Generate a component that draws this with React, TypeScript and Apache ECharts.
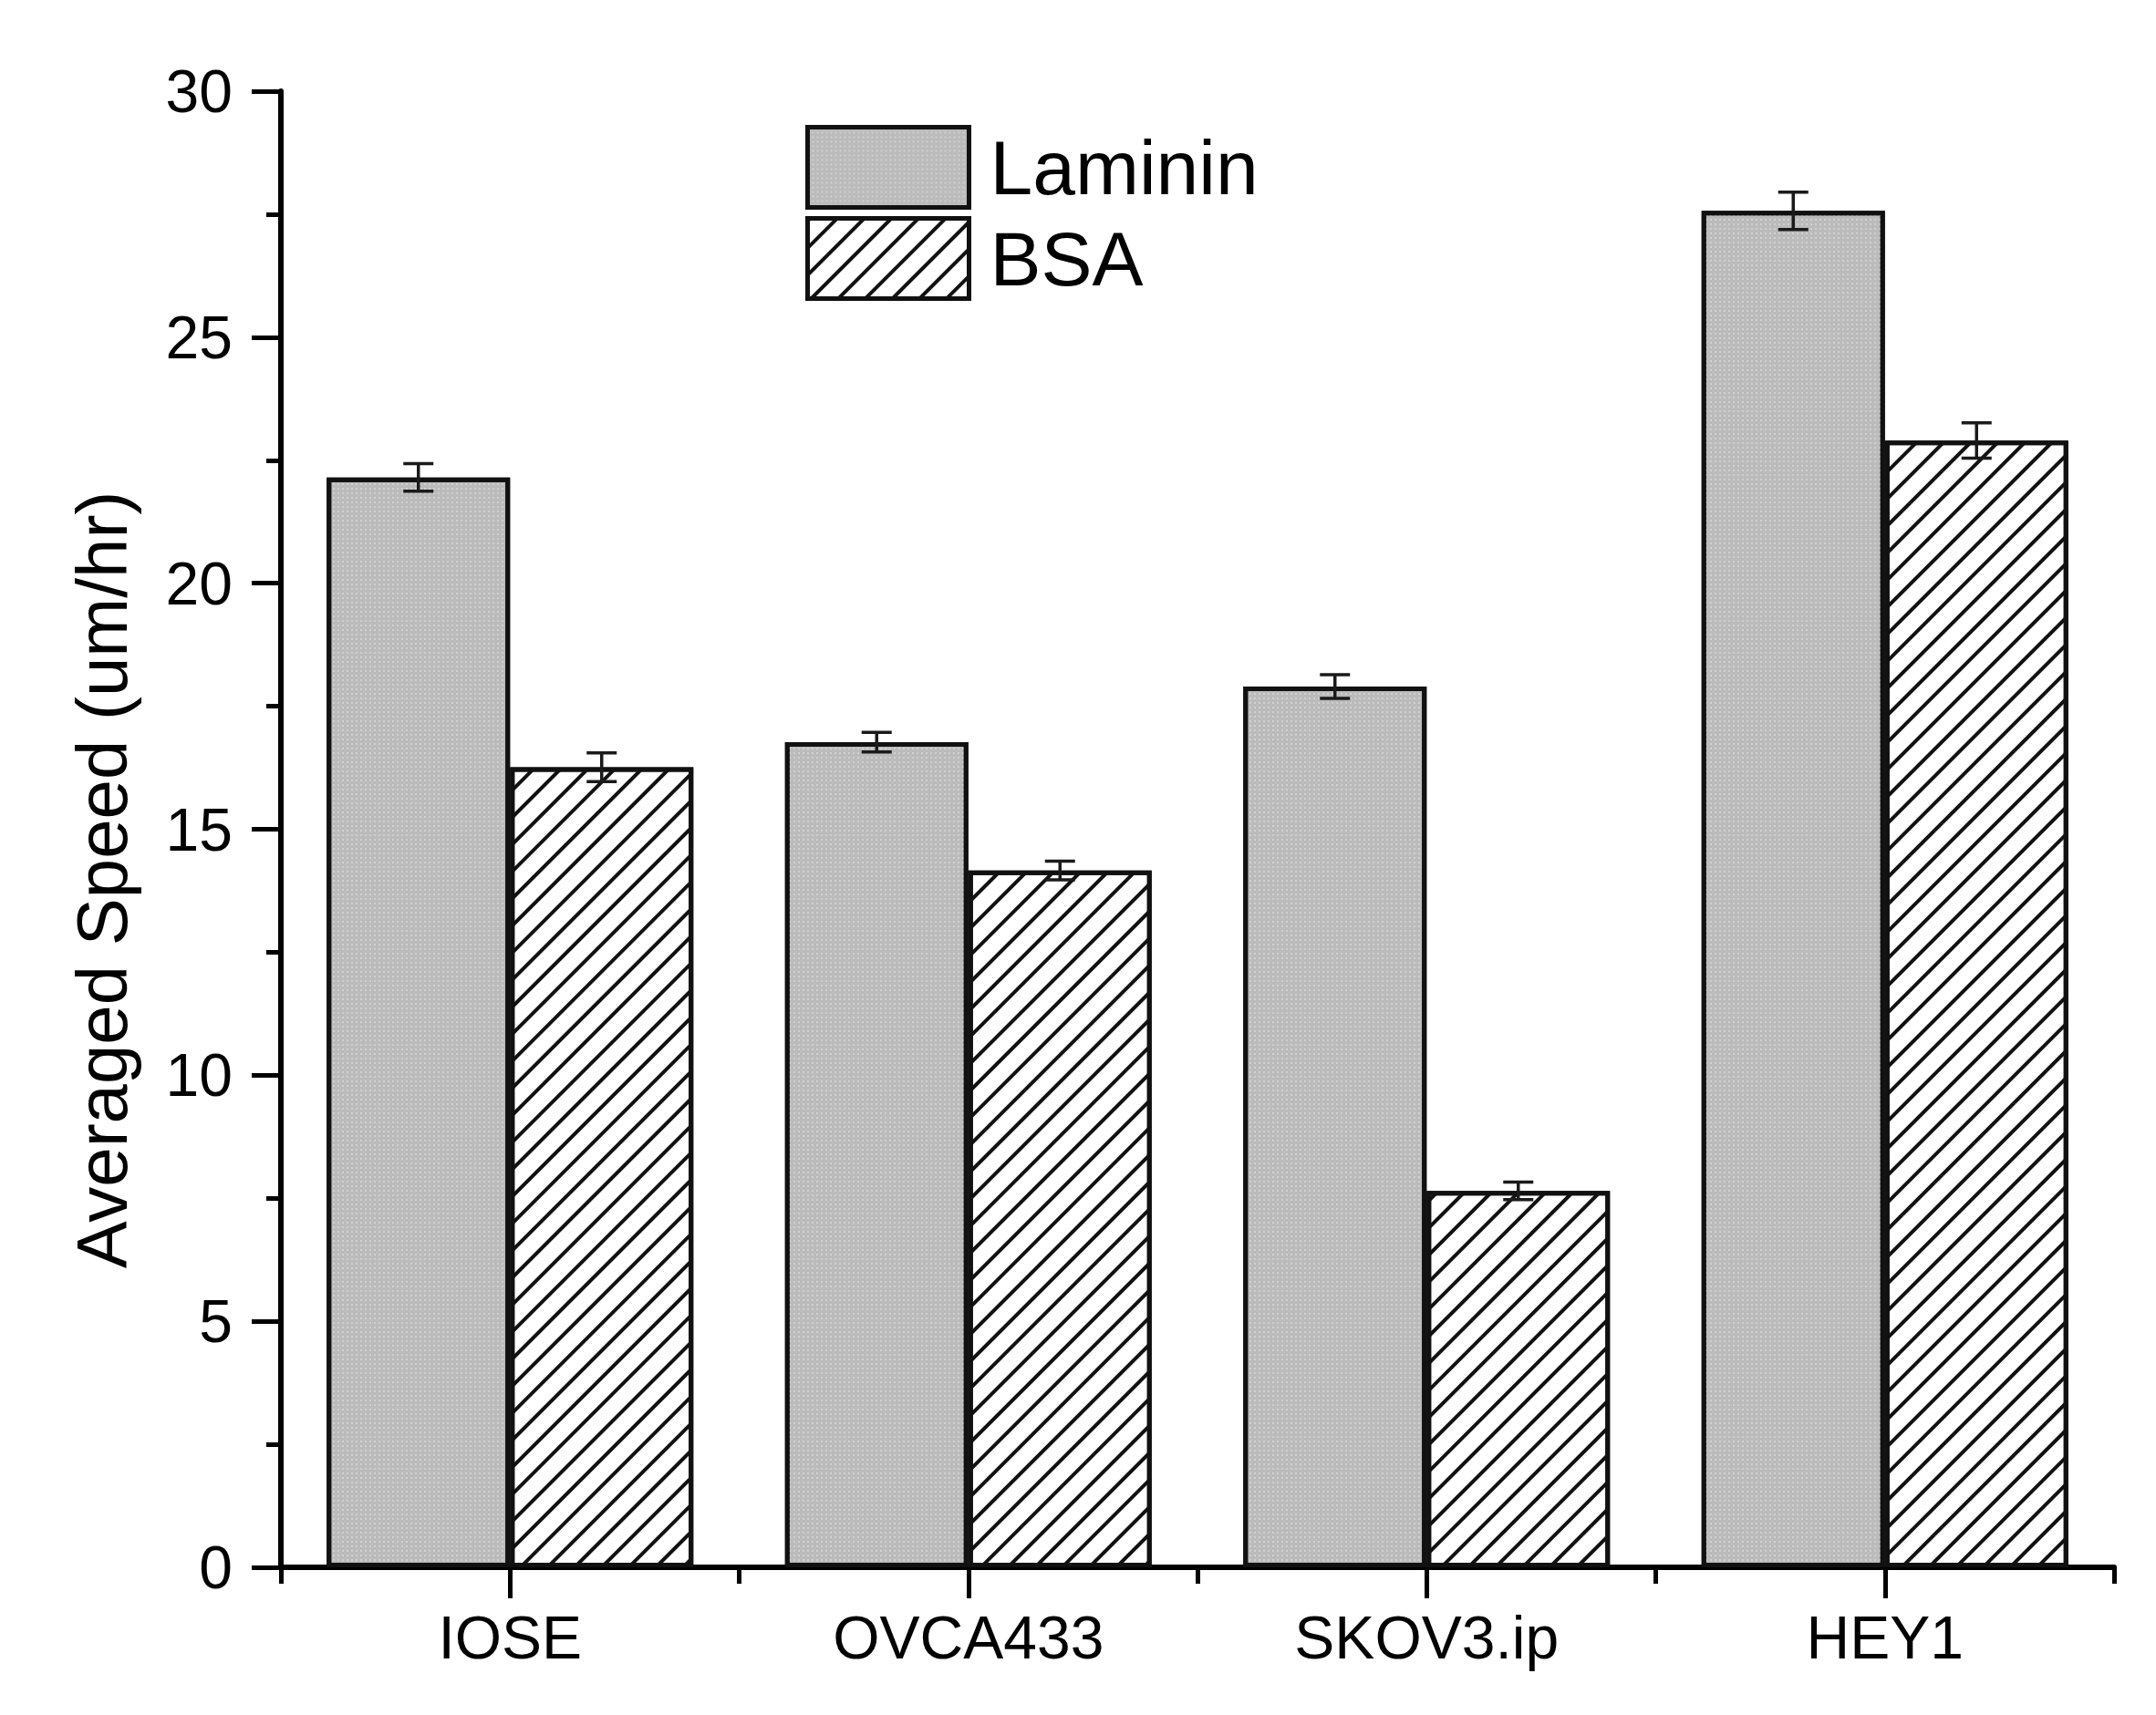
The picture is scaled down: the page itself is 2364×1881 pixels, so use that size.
import React, { useEffect, useRef } from 'react';
import * as echarts from 'echarts';

const categories = ['IOSE', 'OVCA433', 'SKOV3.ip', 'HEY1'];
const seriesNames = ['Laminin', 'BSA'];
const lamininValues = [22.15, 16.77, 17.9, 27.57];
const lamininErrors = [0.28, 0.2, 0.24, 0.38];
const bsaValues = [16.26, 14.16, 7.65, 22.9];
const bsaErrors = [0.29, 0.19, 0.18, 0.36];
const yMin = 0;
const yMax = 30;
const yInterval = 5;
const yTitle = 'Averaged Speed (um/hr)';

const FONT = "'Liberation Sans', Arial, Helvetica, sans-serif";

export default function App() {
  const ref = useRef<HTMLDivElement>(null);

  useEffect(() => {
    if (!ref.current) return;
    const chart = echarts.init(ref.current, null, { renderer: 'svg' });

    const errData = (vals: number[], errs: number[]) =>
      vals.map((v, i) => [i, v - errs[i], v + errs[i]]);

    const renderErr = (offsetRatio: number) => (params: any, api: any) => {
      const idx = api.value(0);
      const lo = api.coord([idx, api.value(1)]);
      const hi = api.coord([idx, api.value(2)]);
      const band = api.size([1, 0])[0];
      const x = lo[0] + band * offsetRatio;
      const half = 16.5;
      const style = { stroke: '#1a1a1a', lineWidth: 3.5 };
      return {
        type: 'group',
        children: [
          { type: 'line', shape: { x1: x, y1: hi[1], x2: x, y2: lo[1] }, style },
          { type: 'line', shape: { x1: x - half, y1: hi[1], x2: x + half, y2: hi[1] }, style },
          { type: 'line', shape: { x1: x - half, y1: lo[1], x2: x + half, y2: lo[1] }, style },
        ],
      };
    };

    const dotDecal = {
      symbol: 'rect',
      symbolSize: 1,
      color: 'rgba(255,255,255,0.3)',
      dashArrayX: [2, 3],
      dashArrayY: [2, 3],
      rotation: 0,
    };
    const hatchDecal = {
      symbol: 'rect',
      symbolSize: 1,
      color: '#111',
      dashArrayX: [1, 0],
      dashArrayY: [4, 17],
      rotation: -Math.PI / 4,
    };

    const option: any = {
      animation: false,
      backgroundColor: '#fff',
      grid: { left: 308, right: 46, top: 100, bottom: 162, containLabel: false },
      legend: {
        data: seriesNames,
        orient: 'vertical',
        left: 883,
        top: 137,
        itemWidth: 177,
        itemHeight: 88,
        itemGap: 7,
        icon: 'rect',
        padding: 0,
        selectedMode: false,
        itemStyle: { borderColor: '#111', borderWidth: 5 },
        textStyle: {
          fontSize: 84,
          fontFamily: FONT,
          color: '#000',
          padding: [0, 0, 0, 18],
        },
      },
      xAxis: [
        {
          type: 'category',
          data: categories,
          position: 'bottom',
          boundaryGap: true,
          axisLine: { show: true, lineStyle: { color: '#000', width: 6 } },
          axisTick: { show: true, length: 18, lineStyle: { color: '#000', width: 5 } },
          axisLabel: { show: false },
          splitLine: { show: false },
        },
        {
          type: 'category',
          data: categories,
          position: 'bottom',
          boundaryGap: true,
          axisLine: { show: false },
          axisTick: {
            show: true,
            alignWithLabel: true,
            length: 34,
            lineStyle: { color: '#000', width: 5 },
          },
          axisLabel: { show: true, fontSize: 66, fontFamily: FONT, color: '#000', margin: 44 },
          splitLine: { show: false },
        },
      ],
      yAxis: {
        type: 'value',
        min: yMin,
        max: yMax,
        interval: yInterval,
        axisLine: { show: true, lineStyle: { color: '#000', width: 6 } },
        axisTick: { show: true, length: 32, lineStyle: { color: '#000', width: 5 } },
        minorTick: { show: true, splitNumber: 2, length: 16, lineStyle: { color: '#000', width: 5 } },
        splitLine: { show: false },
        minorSplitLine: { show: false },
        axisLabel: { fontSize: 66, fontFamily: FONT, color: '#000', margin: 53 },
      },
      graphic: [
        {
          type: 'text',
          x: 112,
          y: 965,
          rotation: Math.PI / 2,
          style: {
            text: yTitle,
            font: `78px ${FONT}`,
            fill: '#000',
            textAlign: 'center',
            textVerticalAlign: 'middle',
          },
        },
      ],
      series: [
        {
          name: seriesNames[0],
          type: 'bar',
          xAxisIndex: 0,
          data: lamininValues,
          barCategoryGap: '20%',
          barGap: '0%',
          itemStyle: { color: '#bbbbbb', borderColor: '#111', borderWidth: 5, decal: dotDecal },
        },
        {
          name: seriesNames[1],
          type: 'bar',
          xAxisIndex: 0,
          data: bsaValues,
          barCategoryGap: '20%',
          barGap: '0%',
          itemStyle: { color: '#fff', borderColor: '#111', borderWidth: 5, decal: hatchDecal },
        },
        {
          name: 'LamininErr',
          type: 'custom',
          xAxisIndex: 0,
          renderItem: renderErr(-0.2),
          data: errData(lamininValues, lamininErrors),
          encode: { x: 0, y: [1, 2] },
          z: 10,
          silent: true,
        },
        {
          name: 'BSAErr',
          type: 'custom',
          xAxisIndex: 0,
          renderItem: renderErr(0.2),
          data: errData(bsaValues, bsaErrors),
          encode: { x: 0, y: [1, 2] },
          z: 10,
          silent: true,
        },
      ],
    };

    chart.setOption(option);
    return () => {
      chart.dispose();
    };
  }, []);

  return (
    <div
      ref={ref}
      style={{ position: 'absolute', left: 0, top: 0, width: 2364, height: 1881, background: '#fff' }}
    />
  );
}
